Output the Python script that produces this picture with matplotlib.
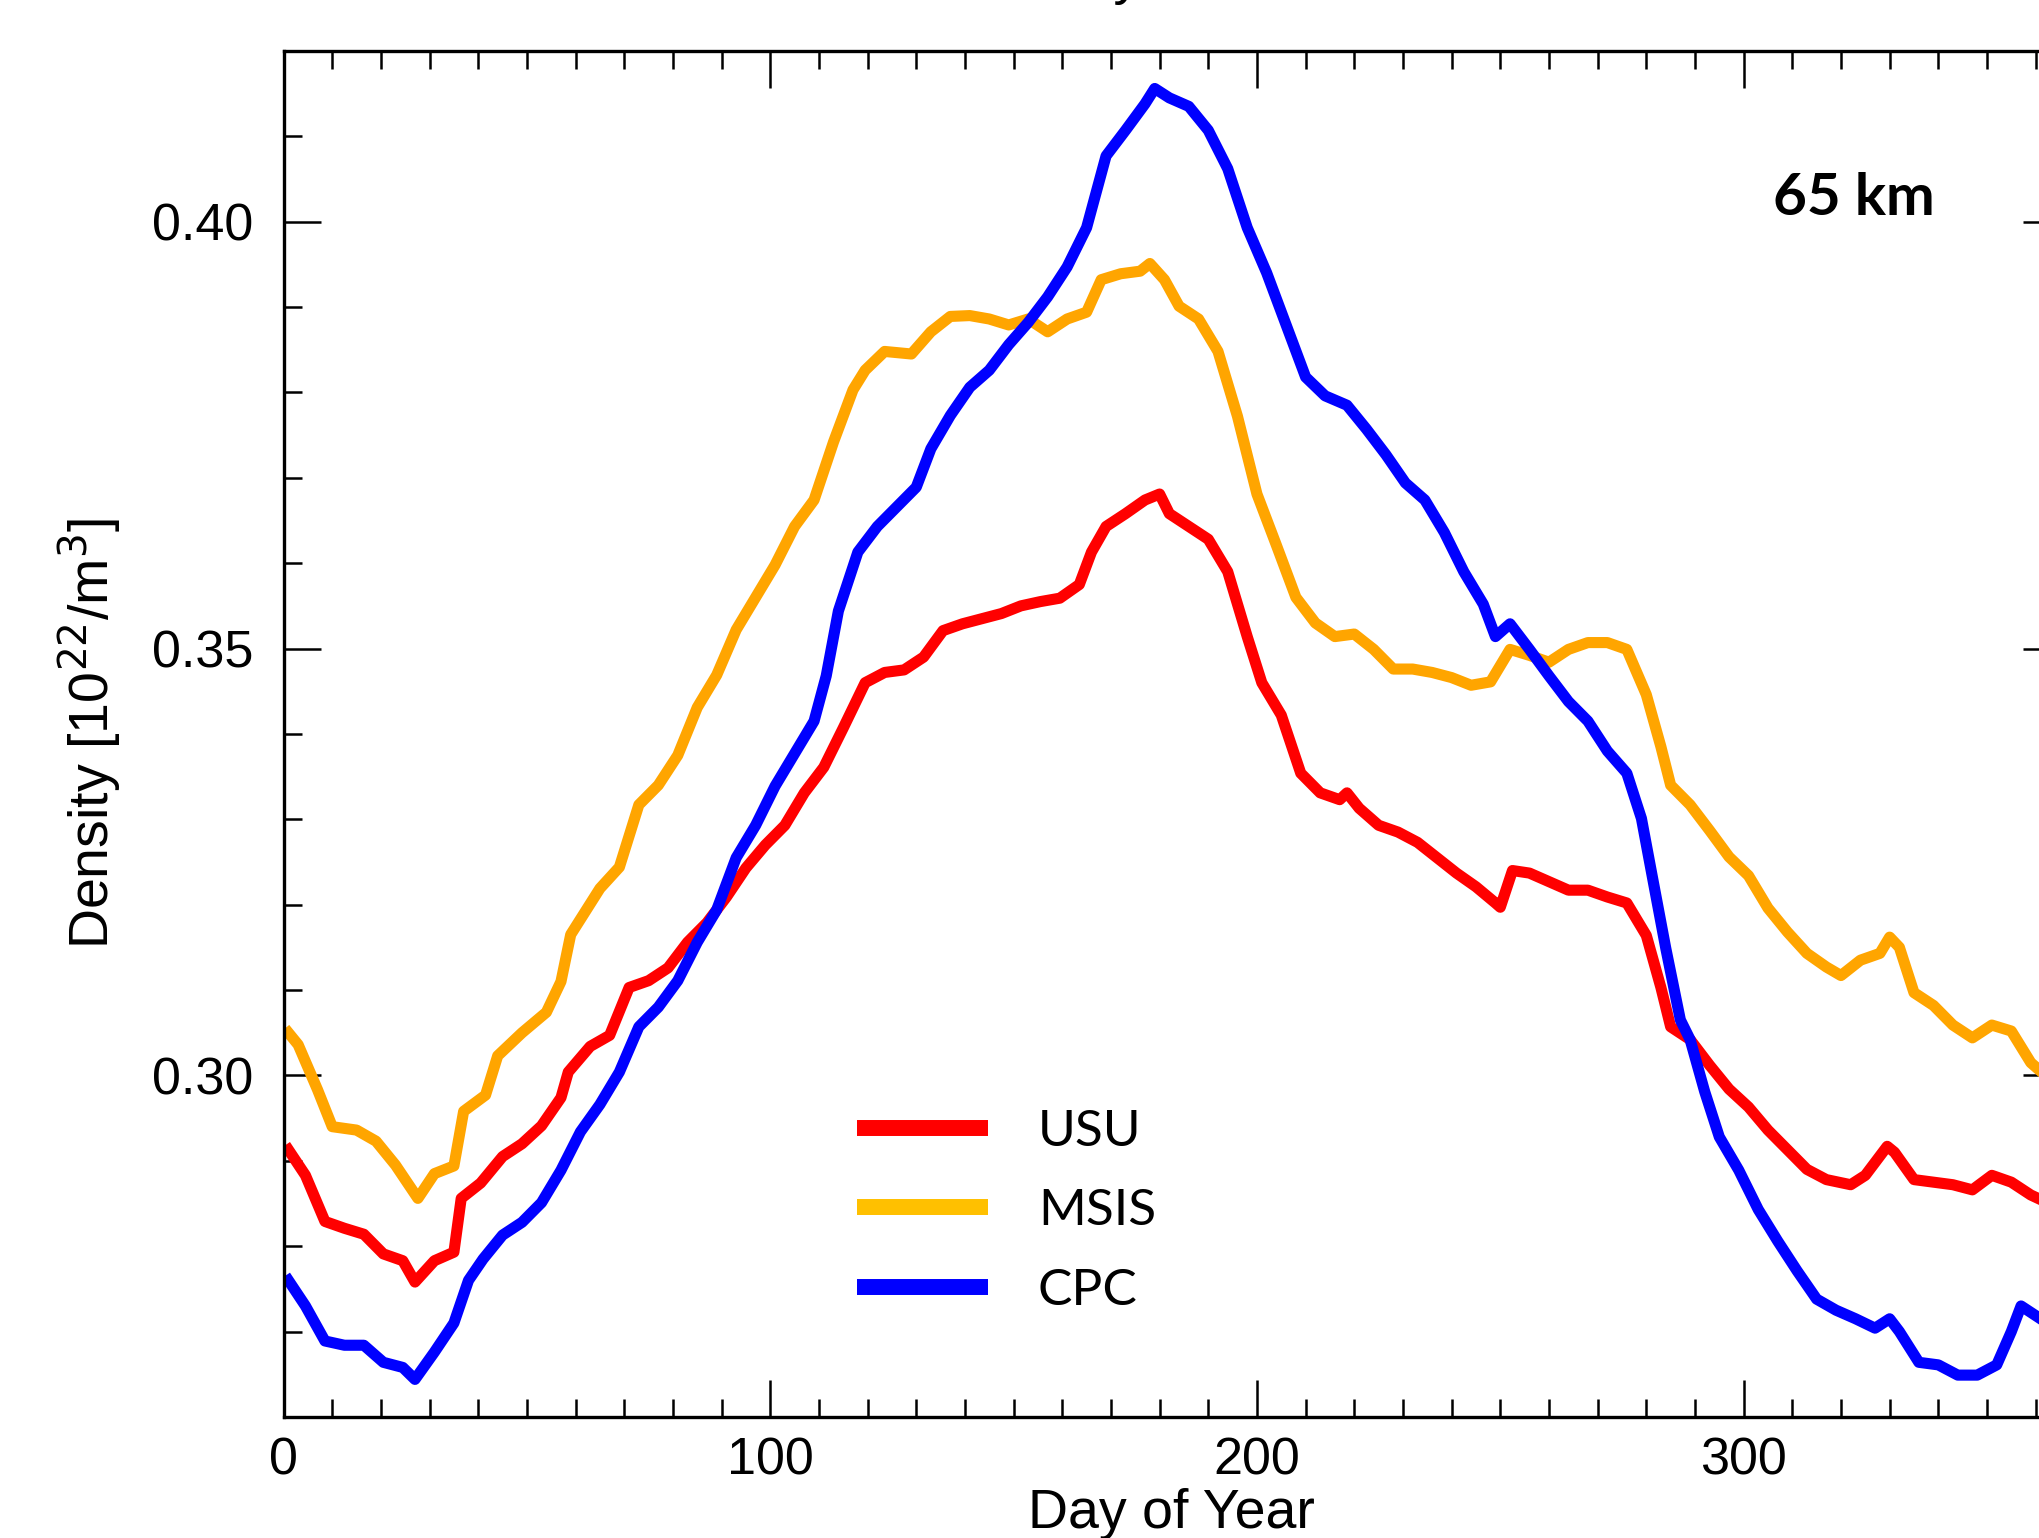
import numpy as np
import matplotlib
matplotlib.use('Agg')
import matplotlib.pyplot as plt
from matplotlib.lines import Line2D
from matplotlib.ticker import MultipleLocator, FormatStrFormatter

# values (day of year, density in 1e22/m^3)
msis_day = [1, 3, 7, 10, 15, 19, 23, 27.6, 31, 35, 37, 41.5, 44, 49, 54, 57, 59, 65, 69, 73,
            77, 81, 85, 89, 93, 97, 101, 105, 109, 113, 117, 119.5, 123.5, 129, 133, 137, 141,
            145, 149, 153, 157, 161, 165, 168, 172, 176, 178, 181, 184, 188, 192, 196, 200,
            204, 208, 212, 216, 220, 224, 228, 232, 236, 240, 244, 248, 252, 256, 260, 264,
            268, 272, 276, 280, 283, 285, 289, 293, 297, 301, 305, 309, 313, 317, 320, 324,
            328, 330, 332, 335, 339, 343, 347, 351, 355, 359, 362]
msis_val = [0.3050, 0.3036, 0.2983, 0.2940, 0.2936, 0.2923, 0.2895, 0.2856, 0.2885, 0.2894,
            0.2958, 0.2977, 0.3023, 0.3050, 0.3074, 0.3110, 0.3165, 0.3219, 0.3244, 0.3317,
            0.3340, 0.3375, 0.3431, 0.3469, 0.3522, 0.3560, 0.3598, 0.3643, 0.3674, 0.3742,
            0.3803, 0.3826, 0.3848, 0.3845, 0.3871, 0.3889, 0.3890, 0.3886, 0.3879, 0.3886,
            0.3871, 0.3886, 0.3894, 0.3932, 0.3939, 0.3942, 0.3951, 0.3932, 0.3901, 0.3886,
            0.3848, 0.3772, 0.3681, 0.3621, 0.3560, 0.3530, 0.3514, 0.3517, 0.3499, 0.3476,
            0.3476, 0.3472, 0.3466, 0.3457, 0.3461, 0.3499, 0.3492, 0.3484, 0.3499, 0.3507,
            0.3507, 0.3499, 0.3446, 0.3385, 0.3340, 0.3317, 0.3287, 0.3256, 0.3234, 0.3196,
            0.3168, 0.3143, 0.3127, 0.3117, 0.3135, 0.3143, 0.3162, 0.3150, 0.3097, 0.3082,
            0.3059, 0.3044, 0.3059, 0.3052, 0.3015, 0.3000]

usu_day = [1, 4.5, 8.5, 12.5, 16.5, 20.5, 24.5, 27, 31, 35, 36.5, 40.5, 45, 49, 53, 57, 58.5,
           63, 67, 71, 75, 79, 83, 87, 91, 95, 99, 103, 107, 111, 115, 119.5, 123.5, 127.5,
           131.5, 135.5, 139.5, 143.5, 147.5, 151.5, 155.5, 159.5, 163.5, 166, 169, 173, 177,
           180, 182, 186, 190, 194, 198, 201, 205, 209, 213, 217, 218.5, 221, 225, 229, 233,
           237, 241, 245, 249, 250, 252.5, 256, 260, 264, 268, 272, 276, 280, 283, 285, 289,
           293, 297, 301, 305, 309, 313, 317, 322, 325, 329.5, 331, 335, 339, 343, 347, 351,
           355, 359, 362]
usu_val = [0.2913, 0.2883, 0.2829, 0.2821, 0.2814, 0.2791, 0.2783, 0.2758, 0.2783, 0.2793,
           0.2856, 0.2874, 0.2905, 0.2920, 0.2941, 0.2974, 0.3004, 0.3034, 0.3047, 0.3103,
           0.3111, 0.3126, 0.3156, 0.3179, 0.3209, 0.3243, 0.3270, 0.3293, 0.3331, 0.3361,
           0.3407, 0.3460, 0.3472, 0.3475, 0.3490, 0.3521, 0.3529, 0.3535, 0.3541, 0.3550,
           0.3555, 0.3559, 0.3575, 0.3613, 0.3643, 0.3658, 0.3674, 0.3681, 0.3658, 0.3643,
           0.3628, 0.3590, 0.3514, 0.3460, 0.3422, 0.3354, 0.3331, 0.3323, 0.3331, 0.3313,
           0.3293, 0.3285, 0.3273, 0.3255, 0.3237, 0.3221, 0.3202, 0.3197, 0.3240, 0.3237,
           0.3227, 0.3217, 0.3217, 0.3209, 0.3202, 0.3164, 0.3103, 0.3057, 0.3042, 0.3012,
           0.2984, 0.2963, 0.2936, 0.2913, 0.2890, 0.2878, 0.2872, 0.2883, 0.2917, 0.2910,
           0.2878, 0.2875, 0.2872, 0.2866, 0.2883, 0.2875, 0.2860, 0.2852]

cpc_day = [1, 4.5, 8.5, 12.5, 16.5, 20.5, 24.5, 27, 31, 35, 38, 41, 45, 49, 53, 57, 61, 65,
           69, 73, 77, 81, 85, 89, 93, 97, 101, 105, 109, 111.5, 114, 118, 122, 126, 130, 133,
           137, 141, 145, 149, 153, 157, 161, 165, 169, 173, 177, 179, 182, 186, 190, 194, 198,
           202, 206, 210, 214, 218.5, 222.5, 226.5, 230.5, 234.5, 238.5, 242.5, 246.5, 249,
           252, 256, 260, 264, 268, 272, 276, 279, 281, 284, 287, 289, 292, 295, 299, 303, 307,
           311, 315, 319, 323, 327, 330, 332, 336, 340, 344, 348, 352, 355, 357, 361, 362]
cpc_val = [0.2760, 0.2730, 0.2689, 0.2684, 0.2684, 0.2664, 0.2658, 0.2644, 0.2676, 0.2710,
           0.2760, 0.2785, 0.2813, 0.2828, 0.2851, 0.2889, 0.2934, 0.2966, 0.3004, 0.3057,
           0.3080, 0.3111, 0.3156, 0.3194, 0.3255, 0.3293, 0.3339, 0.3377, 0.3415, 0.3468,
           0.3544, 0.3613, 0.3643, 0.3666, 0.3689, 0.3734, 0.3773, 0.3806, 0.3826, 0.3856,
           0.3882, 0.3912, 0.3947, 0.3993, 0.4077, 0.4107, 0.4138, 0.4156, 0.4145, 0.4135,
           0.4107, 0.4062, 0.3993, 0.3940, 0.3879, 0.3818, 0.3796, 0.3785, 0.3757, 0.3727,
           0.3694, 0.3674, 0.3636, 0.3590, 0.3552, 0.3514, 0.3529, 0.3499, 0.3468, 0.3438,
           0.3415, 0.3380, 0.3354, 0.3301, 0.3240, 0.3149, 0.3065, 0.3042, 0.2981, 0.2928,
           0.2889, 0.2843, 0.2806, 0.2771, 0.2738, 0.2725, 0.2715, 0.2704, 0.2715, 0.2700,
           0.2664, 0.2661, 0.2649, 0.2649, 0.2661, 0.2700, 0.2730, 0.2715, 0.2712]

labels = ['USU', 'MSIS', 'CPC']
line_colors = ['#ff0000', '#ffa500', '#0000ff']
key_colors = ['#ff0000', '#ffc000', '#0000ff']

plt.rcParams['font.family'] = ['Liberation Sans', 'DejaVu Sans']

fig = plt.figure(figsize=(20.4, 15.38), dpi=100)
ax = fig.add_axes([0.1390, 0.0787, 0.8708, 0.8882])

ax.plot(usu_day, usu_val, color=line_colors[0], lw=8)
ax.plot(msis_day, msis_val, color=line_colors[1], lw=8)
ax.plot(cpc_day, cpc_val, color=line_colors[2], lw=8)

ax.set_xlim(0, 365)
ax.set_ylim(0.26, 0.42)
ax.xaxis.set_major_locator(MultipleLocator(100))
ax.xaxis.set_minor_locator(MultipleLocator(10))
ax.yaxis.set_major_locator(MultipleLocator(0.05))
ax.yaxis.set_minor_locator(MultipleLocator(0.01))
ax.yaxis.set_major_formatter(FormatStrFormatter('%.2f'))
ax.tick_params(which='both', direction='in', top=True, right=True, width=1.8, labelsize=37.5)
ax.tick_params(which='major', length=26.5)
ax.tick_params(which='minor', length=13)
ax.tick_params(axis='y', pad=22)
ax.tick_params(axis='x', pad=14)
for sp in ax.spines.values():
    sp.set_linewidth(2.4)

ax.set_xlabel('Day of Year', fontsize=40, labelpad=2)
ax.set_ylabel('Density [10$^{22}$/m$^{3}$]', fontsize=40, labelpad=20)

# title sits above the crop, only the tail of the "y" shows
fig.text(1142 / 2040, 1 + 7 / 1538, 'Density', fontsize=40, ha='right', va='baseline')

ax.text(0.884, 0.892, '65 km', transform=ax.transAxes, fontsize=42, fontweight='bold',
        family='Lato', ha='center', va='center')

handles = [Line2D([], [], color=c, lw=11.5, solid_capstyle='butt') for c in key_colors]
ax.legend(handles, labels, loc='upper left', bbox_to_anchor=(0.3228, 0.2255),
          frameon=False, borderpad=0, borderaxespad=0, handlelength=2.55,
          handletextpad=0.97, labelspacing=0.65, prop={'family': 'Lato', 'size': 37})

fig.savefig('out.png', dpi=100)
